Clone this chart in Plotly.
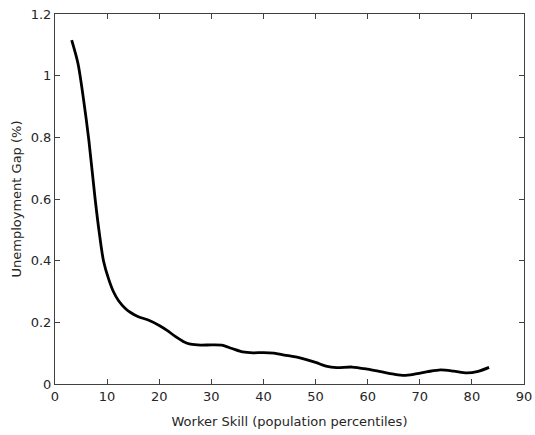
import plotly.graph_objects as go

# Unemployment gap by worker skill percentile
skill = [3.2, 4.4, 5.5, 6.5, 7.7, 8.5, 9.3, 10.3, 11.2, 12.2, 13.5, 14.5, 16, 18, 20,
         21.5, 23, 24.6, 26, 28, 30, 32, 34, 36, 38, 40, 42, 44, 47, 50, 52, 54, 57,
         60, 62.5, 65, 67, 69, 71.5, 74, 76.5, 79, 81, 83.3]
gap = [1.115, 1.04, 0.92, 0.79, 0.60, 0.49, 0.40, 0.34, 0.30, 0.27, 0.245, 0.232, 0.218,
       0.207, 0.19, 0.174, 0.155, 0.138, 0.129, 0.126, 0.127, 0.126, 0.115, 0.104, 0.101,
       0.102, 0.100, 0.094, 0.085, 0.070, 0.058, 0.053, 0.055, 0.048, 0.040, 0.032, 0.028,
       0.032, 0.040, 0.046, 0.042, 0.036, 0.040, 0.054]

x_ticks = [0, 10, 20, 30, 40, 50, 60, 70, 80, 90]
y_ticks = [0, 0.2, 0.4, 0.6, 0.8, 1, 1.2]
y_tick_text = ["0", "0.2", "0.4", "0.6", "0.8", "1", "1.2"]

FONT = "DejaVu Sans, Arial, sans-serif"

fig = go.Figure(go.Scatter(
    x=skill, y=gap, mode="lines",
    line=dict(color="black", width=2.8, shape="spline", smoothing=0.8),
    showlegend=False, hoverinfo="skip",
))

axis_common = dict(
    automargin=False,
    showline=True, linecolor="#404040", linewidth=1, mirror="ticks",
    ticks="inside", ticklen=5, tickcolor="#404040", tickwidth=1,
    showgrid=False, zeroline=False,
    tickfont=dict(family=FONT, size=13, color="#262626"),
)

fig.update_layout(
    width=535, height=435,
    margin=dict(l=55, r=11, t=14, b=51),
    paper_bgcolor="white", plot_bgcolor="white",
    font=dict(family=FONT, size=13, color="#262626"),
    xaxis=dict(range=[0, 90], tickvals=x_ticks,
               title=dict(text="Worker Skill (population percentiles)", standoff=14,
                          font=dict(size=13)),
               **axis_common),
    yaxis=dict(range=[0, 1.2], tickvals=y_ticks, ticktext=y_tick_text,
               title=dict(text="Unemployment Gap (%)", standoff=6, font=dict(size=13)),
               **axis_common),
)

fig.write_html("out.html")
